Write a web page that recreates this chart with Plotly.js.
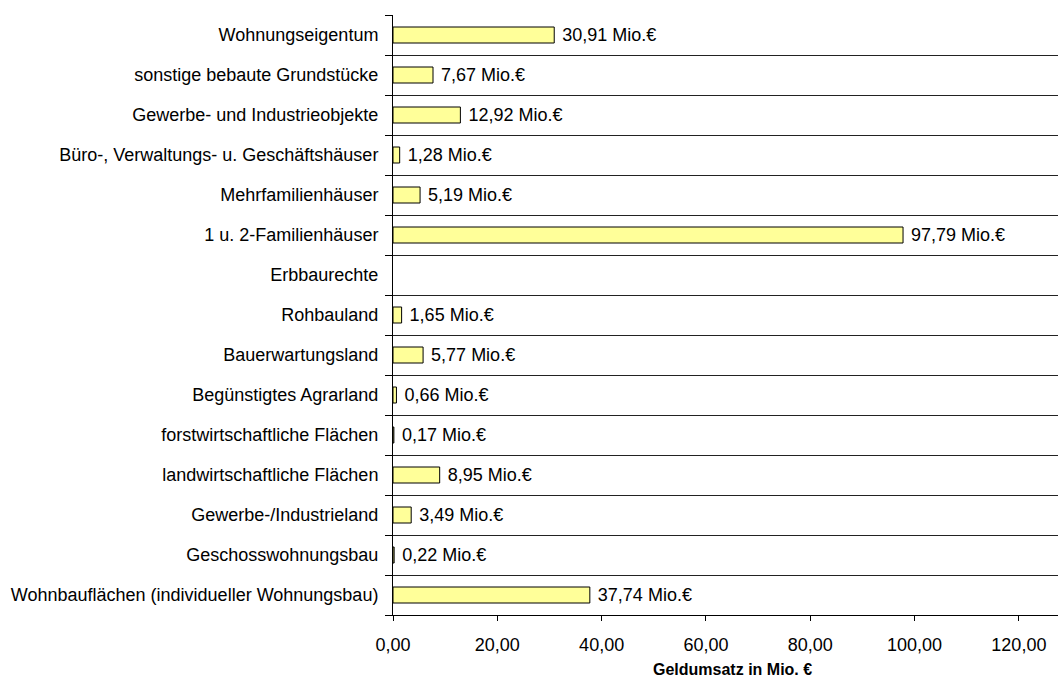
<!DOCTYPE html>
<html>
<head>
<meta charset="utf-8">
<script src="https://cdn.plot.ly/plotly-3.0.1.min.js"></script>
<style>html,body{margin:0;padding:0;background:#fff;}#chart{width:1058px;height:677px;}</style>
</head>
<body>
<div id="chart"></div>
<script>
const categories = [
  "Wohnbauflächen (individueller Wohnungsbau)",
  "Geschosswohnungsbau",
  "Gewerbe-/Industrieland",
  "landwirtschaftliche Flächen",
  "forstwirtschaftliche Flächen",
  "Begünstigtes Agrarland",
  "Bauerwartungsland",
  "Rohbauland",
  "Erbbaurechte",
  "1 u. 2-Familienhäuser",
  "Mehrfamilienhäuser",
  "Büro-, Verwaltungs- u. Geschäftshäuser",
  "Gewerbe- und Industrieobjekte",
  "sonstige bebaute Grundstücke",
  "Wohnungseigentum"
];
const values = [37.74, 0.22, 3.49, 8.95, 0.17, 0.66, 5.77, 1.65, null, 97.79, 5.19, 1.28, 12.92, 7.67, 30.91];
const xTicks = [0, 20, 40, 60, 80, 100, 120];
const xTitle = "Geldumsatz in Mio. €";

const font = "Liberation Sans, Arial, sans-serif";

const trace = {
  type: "bar",
  orientation: "h",
  y: categories,
  x: values,
  width: 0.4,
  marker: {color: "#FFFF99", line: {color: "#000000", width: 1}},
  texttemplate: " %{x:.2f} Mio.€",
  textposition: "outside",
  constraintext: "none",
  cliponaxis: false,
  textfont: {family: font, size: 18, color: "#000000"},
  outsidetextfont: {family: font, size: 18, color: "#000000"},
  hoverinfo: "none"
};

const layout = {
  width: 1058,
  height: 677,
  margin: {l: 393, r: 0, t: 15, b: 62},
  paper_bgcolor: "#ffffff",
  plot_bgcolor: "#ffffff",
  separators: ",.",
  showlegend: false,
  font: {family: font, size: 18, color: "#000000"},
  xaxis: {
    range: [0, 127.5],
    tickvals: xTicks,
    tickformat: ".2f",
    ticks: "outside",
    ticklen: 5,
    tickcolor: "#000000",
    ticklabelstandoff: 8,
    showline: true,
    linecolor: "#000000",
    linewidth: 1,
    showgrid: false,
    zeroline: false,
    tickfont: {family: font, size: 18, color: "#000000"}
  },
  yaxis: {
    type: "category",
    categoryorder: "array",
    categoryarray: categories,
    tickson: "boundaries",
    ticks: "outside",
    ticklen: 7,
    tickcolor: "#000000",
    ticklabelstandoff: 10,
    showline: true,
    linecolor: "#000000",
    linewidth: 1,
    showgrid: true,
    gridcolor: "#222222",
    gridwidth: 1,
    zeroline: false,
    tickfont: {family: font, size: 18, color: "#000000"}
  },
  annotations: [{
    text: "<b>" + xTitle + "</b>",
    xref: "paper", yref: "paper",
    x: 0.51, y: 0,
    xanchor: "center", yanchor: "middle",
    yshift: -54,
    showarrow: false,
    font: {family: font, size: 16, color: "#000000"}
  }]
};

Plotly.newPlot("chart", [trace], layout, {displayModeBar: false, staticPlot: true});
</script>
</body>
</html>
